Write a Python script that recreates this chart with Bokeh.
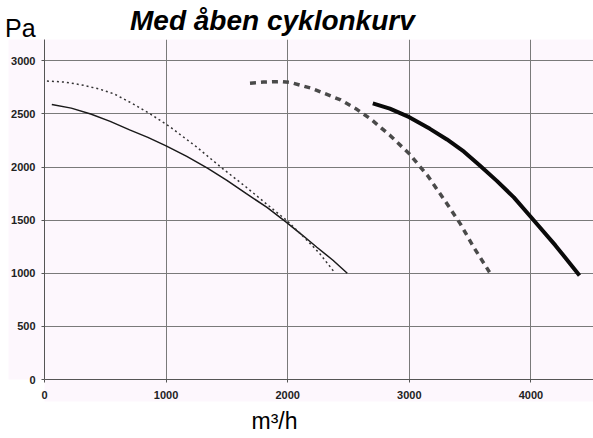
from bokeh.plotting import figure
from bokeh.models import Title, FixedTicker, Range1d, Div
from bokeh.layouts import column
from bokeh.embed import file_html
from bokeh.resources import INLINE

# ---- data ----
thin_x = [60, 220, 380, 540, 700, 850, 1000, 1170, 1340, 1500, 1660, 1830, 1990, 2120, 2240, 2370, 2490]
thin_y = [2590, 2555, 2500, 2430, 2350, 2280, 2200, 2100, 1990, 1875, 1750, 1620, 1480, 1360, 1245, 1125, 1000]

dot_x = [20, 170, 320, 450, 570, 720, 870, 1030, 1250, 1460, 1660, 1860, 1990, 2160, 2260, 2350, 2390]
dot_y = [2810, 2800, 2770, 2735, 2690, 2600, 2500, 2380, 2190, 1990, 1810, 1620, 1500, 1310, 1190, 1060, 1000]

dash_x = [1690, 1800, 1950, 2030, 2200, 2430, 2560, 2680, 2840, 3000, 3150, 3310, 3420, 3530, 3660]
dash_y = [2790, 2800, 2805, 2795, 2740, 2635, 2550, 2455, 2300, 2125, 1920, 1655, 1465, 1245, 1010]

thick_x = [2700, 2840, 3000, 3170, 3310, 3450, 3580, 3720, 3860, 4000, 4200, 4400]
thick_y = [2600, 2550, 2470, 2360, 2260, 2145, 2015, 1870, 1715, 1530, 1265, 980]

x_ticks = [0, 1000, 2000, 3000, 4000]
y_ticks = [0, 500, 1000, 1500, 2000, 2500, 3000]

title_text = "Med åben cyklonkurv"
y_unit = "Pa"
x_unit = "m³/h"

PINK = "#fdf7fd"
W = 593

# ---- heading strip: y unit at the left, title to the right ----
head_html = (
    '<div style="position:relative;width:593px;height:39px;margin:0;padding:0;'
    'font-family:\'Liberation Sans\',Arial,sans-serif;color:#000;">'
    '<span style="position:absolute;left:5px;top:16px;font-size:25px;line-height:25px;'
    'white-space:nowrap;">' + y_unit + '</span>'
    '<span style="position:absolute;left:130px;top:7px;font-size:28px;line-height:28px;'
    'font-weight:bold;font-style:italic;white-space:nowrap;">' + title_text + '</span>'
    '</div>'
)
head = Div(text=head_html, width=W, height=39, margin=0)

# ---- main chart ----
p = figure(width=W, height=399, output_backend="svg", toolbar_location=None,
           x_range=Range1d(0, 4515), y_range=Range1d(0, 3201),
           background_fill_color=PINK, border_fill_color="white",
           min_border_left=44, min_border_right=0, min_border_top=0, min_border_bottom=59)
p.outline_line_color = None

p.add_layout(Title(text=x_unit, align="left", offset=207, standoff=9,
                   text_font="Liberation Sans", text_font_size="23px",
                   text_font_style="normal", text_color="#000000"), "below")

for ax in (p.xaxis[0], p.yaxis[0]):
    ax.axis_line_color = "#555555"
    ax.major_tick_line_color = "#555555"
    ax.major_tick_out = 3
    ax.major_tick_in = 0
    ax.minor_tick_line_color = None
    ax.major_label_text_font = "Liberation Sans"
    ax.major_label_text_font_size = "11px"
    ax.major_label_text_font_style = "bold"
    ax.major_label_text_color = "#222222"
    ax.background_fill_color = PINK
p.xaxis.ticker = FixedTicker(ticks=x_ticks)
p.yaxis.ticker = FixedTicker(ticks=y_ticks)
p.xaxis.major_label_standoff = 8
p.yaxis.major_label_standoff = 6

p.xgrid.ticker = FixedTicker(ticks=x_ticks)
p.ygrid.ticker = FixedTicker(ticks=y_ticks)
p.grid.grid_line_color = "#7a7a7a"
p.grid.grid_line_width = 1

p.line(thin_x, thin_y, line_color="#1a1a1a", line_width=1.5)
p.line(dot_x, dot_y, line_color="#333333", line_width=1.5, line_dash="2 3")
p.line(dash_x, dash_y, line_color="#4a4a4a", line_width=3.5, line_dash="6 5")
p.line(thick_x, thick_y, line_color="#0a0a0a", line_width=4)

layout = column(head, p, spacing=0)
open("out.html", "w").write(file_html(layout, INLINE))
